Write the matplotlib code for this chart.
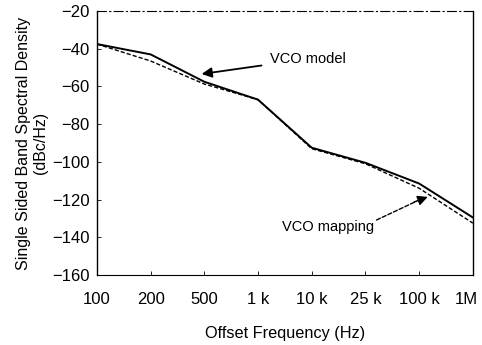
import matplotlib
matplotlib.use("Agg")
import matplotlib.pyplot as plt
import matplotlib.transforms as mtransforms

freq_labels = ["100", "200", "500", "1 k", "10 k", "25 k", "100 k", "1M"]
vco_model = [-37.5, -43.0, -57.5, -67.0, -92.5, -100.5, -111.5, -129.5]
vco_mapping = [-37.5, -46.5, -58.7, -67.0, -93.0, -101.0, -114.0, -132.5]
y_ticks = [-20, -40, -60, -80, -100, -120, -140, -160]

plt.rcParams['font.family'] = ['Liberation Sans', 'DejaVu Sans']

fig = plt.figure(figsize=(4.82, 3.45), dpi=100)
ax = fig.add_axes([0.201, 0.203, 0.780, 0.765])

x = list(range(len(freq_labels)))
ax.plot(x, vco_model, color='black', lw=1.4, solid_joinstyle='miter')
ax.plot(x, vco_mapping, color='black', lw=1.0, ls=(0, (3, 1.5)))

ax.set_xlim(0, len(freq_labels) - 1)
ax.set_ylim(-160, -20)
ax.set_yticks(y_ticks)
ax.set_yticklabels([str(v).replace('-', '\u2212') for v in y_ticks])
ax.set_xticks(x)
ax.set_xticklabels(freq_labels)
ax.tick_params(direction='in', length=3, width=0.6, labelsize=12, colors='black')
ax.tick_params(axis='x', pad=12)
ax.tick_params(axis='y', pad=5)

# keep the last x tick label inside the figure
last = ax.get_xticklabels()[-1]
last.set_transform(last.get_transform() +
                   mtransforms.ScaledTranslation(-5 / 72, 0, fig.dpi_scale_trans))

for s in ['left', 'right']:
    ax.spines[s].set_linewidth(1.0)
ax.spines['top'].set_linestyle((0, (8, 3, 1, 3)))
ax.spines['top'].set_linewidth(0.8)
ax.spines['bottom'].set_linestyle((0, (2, 1)))
ax.spines['bottom'].set_linewidth(0.8)

ax.set_ylabel("Single Sided Band Spectral Density\n(dBc/Hz)", fontsize=11.5, labelpad=3)
ax.set_xlabel("Offset Frequency (Hz)", fontsize=11.7, labelpad=14)

# VCO model: solid arrow
ax.annotate("VCO model", xy=(1.95, -53.4), xytext=(3.22, -45.4),
            fontsize=10.5, va='center', ha='left',
            arrowprops=dict(arrowstyle='-|>', color='black', lw=1.3,
                            mutation_scale=15, shrinkA=4, shrinkB=0))

# VCO mapping: dashed shaft with solid head
ax.annotate("VCO mapping", xy=(5.95, -120.9), xytext=(3.44, -134.5),
            fontsize=10.5, va='center', ha='left',
            arrowprops=dict(arrowstyle='-', color='black', lw=1.0, ls=(0, (3, 1.5)),
                            shrinkA=0, shrinkB=0, relpos=(1.0, 0.9)))
ax.annotate("", xy=(6.16, -118.6), xytext=(5.90, -121.4),
            arrowprops=dict(arrowstyle='-|>', color='black', lw=1.0,
                            mutation_scale=15, shrinkA=0, shrinkB=0))

fig.savefig("out.png", dpi=100)
